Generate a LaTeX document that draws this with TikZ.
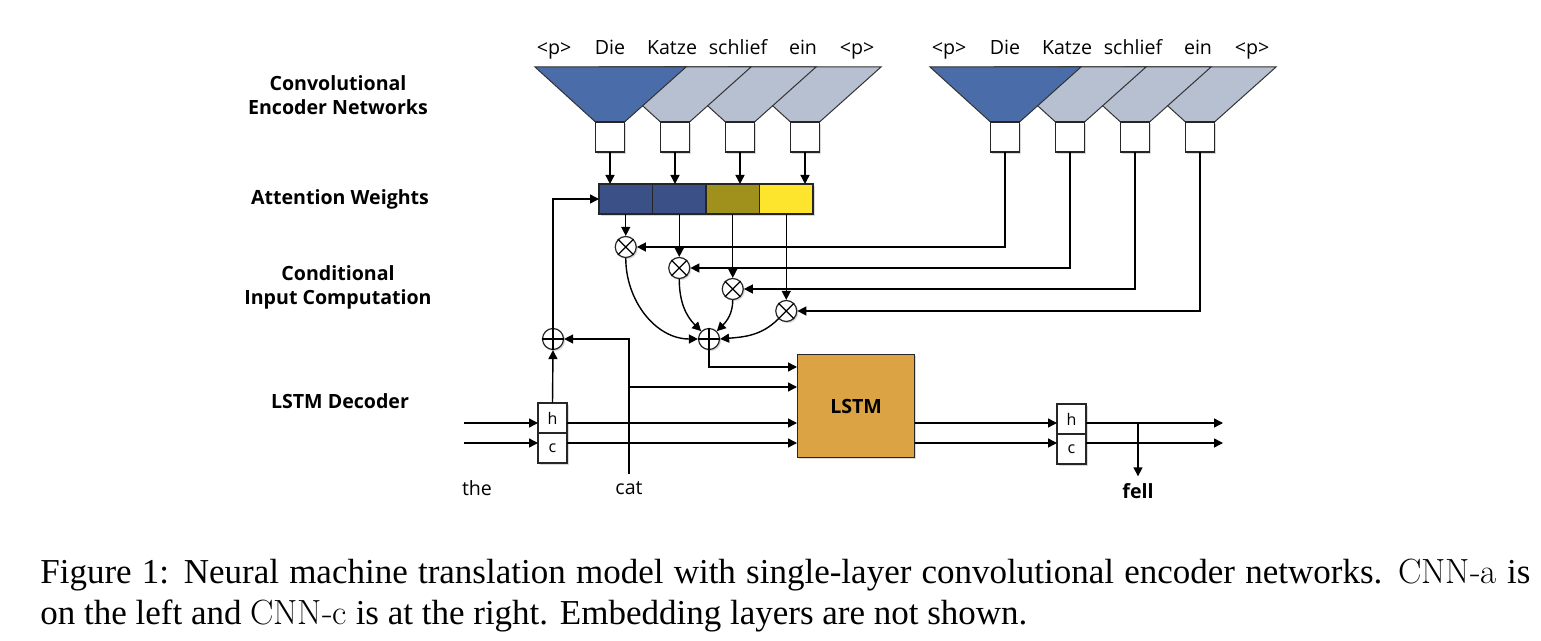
\documentclass[tikz,border=0pt]{standalone}
\usepackage{fontspec}
\newfontfamily\diafont{Open Sans}
\newfontfamily\capfont{Liberation Serif}
\usetikzlibrary{arrows.meta,shadows,calc,positioning}

\definecolor{encdark}{HTML}{4A6CA8}
\definecolor{enclight}{HTML}{B7C0D1}
\definecolor{attblue}{HTML}{3A5086}
\definecolor{attolive}{HTML}{A0911C}
\definecolor{attyellow}{HTML}{FDE52E}
\definecolor{lstmfill}{HTML}{DBA343}

\tikzset{
  conn/.style={line width=0.7pt, -{Triangle[length=4.5pt,width=4.5pt]}},
  shad/.style={drop shadow={opacity=0.3,shadow xshift=0.8pt,shadow yshift=-0.8pt}},
  outbox/.style={draw=black!85, line width=0.6pt, fill=white, minimum width=14.5pt,
    minimum height=15pt, inner sep=0pt, outer sep=0pt, shad, font=\diafont\fontsize{8}{9}\selectfont},
  attcell/.style={draw=black!85, line width=0.6pt, minimum width=26.75pt,
    minimum height=15pt, inner sep=0pt, outer sep=0pt, shad},
  opnode/.style={circle, draw=black!85, line width=0.6pt, fill=white,
    minimum size=10.5pt, inner sep=0pt, shad},
  lbl/.style={font=\diafont\bfseries\fontsize{9.8}{12}\selectfont, align=center},
  word/.style={font=\diafont\fontsize{9.8}{12}\selectfont},
}

\begin{document}
\begin{tikzpicture}[x=0.5pt,y=-0.5pt]
  \useasboundingbox (0,0) rectangle (1541,641);

  % encoders, CNN-a left and CNN-c right
  \foreach \side/\xo in {a/610, c/1005} {
    \foreach \i in {3,2,1,0} {
      \pgfmathsetmacro\cx{\xo+65*\i}
      \ifnum\i=0 \def\fc{encdark}\else\def\fc{enclight}\fi
      \filldraw [fill=\fc, draw=black!80, line width=0.5pt]
        (\cx-75,67) -- (\cx+76,67) -- (\cx+14.5,122) -- (\cx-14.5,122) -- cycle;
      \node [outbox, anchor=north] (enc-\side-\i) at (\cx,122) {};
    }
    \foreach \dx/\w [count=\k] in {-56/{<p>},0/Die,62/Katze,128/schlief,193/ein,247/{<p>}}
      \node [word, anchor=base] (tok-\side-\k) at (\xo+\dx,55) {\w};
  }

  % attention weights
  \node [attcell, fill=attblue, anchor=west] (att1) at (599,199) {};
  \node [attcell, fill=attblue, right=0pt of att1] (att2) {};
  \node [attcell, fill=attolive, right=0pt of att2] (att3) {};
  \node [attcell, fill=attyellow, right=0pt of att3] (att4) {};
  \foreach \i in {0,...,3}
    \draw [conn] (enc-a-\i.south) -- (enc-a-\i.south |- att1.north);

  % conditional input
  \foreach \i/\k/\d in {0/1/33, 1/2/54, 2/3/75, 3/4/97} {
    \node [opnode] (mul\k) at ($(att\k.south)+(0,\d)$) {};
    \draw [line width=0.6pt] (mul\k.north west) -- (mul\k.south east)
      (mul\k.north east) -- (mul\k.south west);
    \draw [conn] (att\k.south) -- (mul\k.north);
    \draw [conn] (enc-c-\i.south) |- (mul\k.east);
  }
  \node [opnode] (sum) at (709,339) {};
  \node [opnode] (addL) at (553,339) {};
  \draw [line width=0.6pt] (sum.north) -- (sum.south) (sum.west) -- (sum.east);
  \draw [line width=0.6pt] (addL.north) -- (addL.south) (addL.west) -- (addL.east);
  \draw [conn] (mul1.south) to[out=-90,in=180] (sum.west);
  \draw [conn] (mul2.south) to[out=-90,in=135] (sum.north west);
  \draw [conn] (mul3.south) to[out=-90,in=45] (sum.north east);
  \draw [conn] (mul4.south west) to[out=-135,in=5] (sum.east);

  % decoder
  \node [draw=black!85, line width=0.6pt, fill=lstmfill, minimum width=58.5pt,
    minimum height=51.5pt, anchor=north west, shad,
    font=\diafont\bfseries\fontsize{9.8}{12}\selectfont] (lstm) at (797,354) {LSTM};
  \node [outbox, anchor=north] (hA) at (552.5,403) {h};
  \node [outbox, below=0pt of hA] (cA) {c};
  \node [outbox, anchor=north] (hB) at (1071.5,404) {h};
  \node [outbox, below=0pt of hB] (cB) {c};
  \node [word] (the) at (477,488) {the};
  \node [word] (cat) at (629,488) {cat};
  \node [word, font=\diafont\bfseries\fontsize{9.8}{12}\selectfont] (fell) at (1138,491) {fell};

  \coordinate (inH) at (464,423);
  \coordinate (inC) at (464,443);
  \coordinate (outH) at (1223,423);
  \coordinate (outC) at (1223,443);
  \coordinate (inS) at (797,367);
  \coordinate (inX) at (797,387);

  \draw [conn] (inH) -- (inH -| hA.west);
  \draw [conn] (inC) -- (inC -| cA.west);
  \draw [conn] (inH -| hA.east) -- (inH -| lstm.west);
  \draw [conn] (inC -| cA.east) -- (inC -| lstm.west);
  \draw [conn] (inH -| lstm.east) -- (inH -| hB.west);
  \draw [conn] (inC -| lstm.east) -- (inC -| cB.west);
  \draw [conn] (inH -| hB.east) -- (outH);
  \draw [conn] (inC -| cB.east) -- (outC);
  \draw [conn] (fell.north |- outH) -- (fell.north);
  \draw [conn] (sum.south) |- (inS);
  \draw [conn] (cat.north) |- (addL.east);
  \draw [conn] (cat.north |- inX) -- (inX);
  \draw [conn] (hA.north) -- (addL.south);
  \draw [conn] (addL.north) |- (att1.west);

  % row labels
  \node [lbl] (lblEnc) at (338,95) {Convolutional\\Encoder Networks};
  \node [lbl] (lblAtt) at (340,199) {Attention Weights};
  \node [lbl] (lblCond) at (338,287) {Conditional\\Input Computation};
  \node [lbl] (lblDec) at (340,401) {LSTM Decoder};

  \node [font=\capfont\fontsize{17.5}{20.5}\selectfont, text width=745pt, align=justify,
    anchor=base west, inner sep=0pt] (caption) at (40,583)
    {Figure 1: Neural machine translation model with single-layer convolutional encoder networks.
     {\rmfamily CNN-a} is\linebreak on the left and {\rmfamily CNN-c} is at the right.
     Embedding layers are not shown.};
\end{tikzpicture}
\end{document}
